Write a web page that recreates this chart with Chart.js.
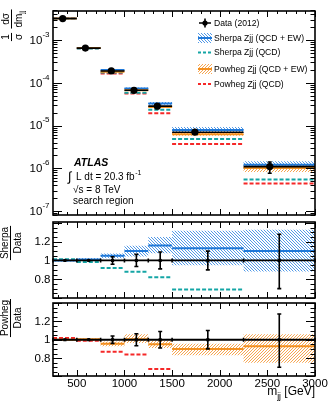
<!DOCTYPE html>
<html><head><meta charset="utf-8">
<script src="https://cdn.jsdelivr.net/npm/chart.js@4.4.1/dist/chart.umd.min.js"></script>
<style>
html,body{margin:0;padding:0;background:#fff;width:332px;height:406px;overflow:hidden;}
canvas{position:absolute;left:0;}
</style></head><body>
<canvas id="c1" width="332" height="219" style="top:0px;width:332px;height:219px"></canvas>
<canvas id="c2" width="332" height="84" style="top:218px;width:332px;height:84px"></canvas>
<canvas id="c3" width="332" height="107" style="top:299px;width:332px;height:107px"></canvas>
<script>
// ---------------- data ----------------
const binLo = [250, 500, 750, 1000, 1250, 1500, 2250];
const binHi = [500, 750, 1000, 1250, 1500, 2250, 3000];
const dataX = [352, 590, 862, 1100, 1345, 1740, 2525];
const dataY = [3.2e-3, 6.5e-4, 1.9e-4, 6.7e-5, 2.85e-5, 7.0e-6, 1.1e-6];
const dataErrUp = [0.01, 0.015, 0.04, 0.065, 0.09, 0.10, 0.28];
const dataErrDn = [0.01, 0.015, 0.04, 0.065, 0.09, 0.10, 0.30];

const sherpaEW   = [3.2e-3, 6.57e-4, 2.0e-4, 7.37e-5, 3.31e-5, 7.91e-6, 1.21e-6];
const sherpaEWUp = [3.23e-3, 6.66e-4, 2.04e-4, 7.75e-5, 3.56e-5, 9.22e-6, 1.46e-6];
const sherpaEWDn = [3.17e-3, 6.47e-4, 1.94e-4, 6.99e-5, 3.07e-5, 6.65e-6, 9.7e-7];
const sherpaQCD  = [3.22e-3, 6.4e-4, 1.75e-4, 5.9e-5, 2.34e-5, 4.83e-6, 5.5e-7];
const powhegEW   = [3.2e-3, 6.5e-4, 1.81e-4, 6.73e-5, 2.71e-5, 6.3e-6, 1.02e-6];
const powhegEWUp = [3.23e-3, 6.6e-4, 1.86e-4, 7.1e-5, 2.82e-5, 6.69e-6, 1.17e-6];
const powhegEWDn = [3.17e-3, 6.44e-4, 1.77e-4, 6.47e-5, 2.59e-5, 5.81e-6, 8.25e-7];
const powhegQCD  = [3.26e-3, 6.44e-4, 1.65e-4, 5.63e-5, 1.94e-5, 3.71e-6, 4.4e-7];

const ratioX = [375, 625, 875, 1125, 1375, 1875, 2625];
const dataRatio = [1, 1, 1, 1, 1, 1, 1];
const sherpaRatio    = [1.0, 1.01, 1.05, 1.10, 1.16, 1.13, 1.10];
const sherpaRatioUp  = [1.01, 1.025, 1.073, 1.157, 1.25, 1.317, 1.327];
const sherpaRatioDn  = [0.99, 0.995, 1.023, 1.043, 1.077, 0.95, 0.883];
const sherpaQCDRatio = [1.012, 0.983, 0.92, 0.88, 0.82, 0.69, 0.50];
const powhegRatio    = [1.0, 1.005, 0.955, 1.005, 0.95, 0.90, 0.93];
const powhegRatioUp  = [1.01, 1.015, 0.98, 1.06, 0.99, 0.955, 1.06];
const powhegRatioDn  = [0.99, 0.99, 0.93, 0.965, 0.91, 0.83, 0.75];
const powhegQCDRatio = [1.02, 0.99, 0.87, 0.84, 0.68, 0.53, 0.40];

const xTickValues = [500, 1000, 1500, 2000, 2500, 3000];
const xTickLabels = ['500', '1000', '1500', '2000', '2500', '3000'];
const logTickValues = [1e-7, 1e-6, 1e-5, 1e-4, 1e-3];
const logTickExps = ['-7', '-6', '-5', '-4', '-3'];
const ratioTickValues = [0.8, 1, 1.2];
const ratioTickLabels = ['0.8', '1', '1.2'];

// ---------------- style ----------------
const FONT = '"Liberation Sans", Arial, Helvetica, sans-serif';
const C_SH = '#1f78d8', C_SH_H = '#3f8fe4', C_SHQ = '#14a5a5';
const C_PW = '#f39020', C_PW_H = '#f59c3e', C_PWQ = '#f52828';

function hatch(ctx, color, dir) {
  const c = document.createElement('canvas'); c.width = 3; c.height = 3;
  const g = c.getContext('2d'); g.strokeStyle = color; g.lineWidth = 0.9;
  g.beginPath();
  if (dir > 0) { g.moveTo(-1, 4); g.lineTo(4, -1); g.moveTo(-1, 1); g.lineTo(1, -1); g.moveTo(2, 4); g.lineTo(4, 2); }
  else { g.moveTo(-1, -1); g.lineTo(4, 4); g.moveTo(-1, 2); g.lineTo(1, 4); g.moveTo(2, -1); g.lineTo(4, 1); }
  g.stroke();
  return ctx.createPattern(c, 'repeat');
}

function segs(vals) {
  const out = [];
  for (let i = 0; i < vals.length; i++) {
    out.push({x: binLo[i], y: vals[i]}, {x: binHi[i], y: vals[i]}, {x: binHi[i], y: null});
  }
  return out;
}
function stepPts(vals) {
  const out = [];
  for (let i = 0; i < vals.length; i++) out.push({x: binLo[i], y: vals[i]}, {x: binHi[i], y: vals[i]});
  return out;
}
function lineDS(data, color, width, dash, order) {
  return {data, borderColor: color, borderWidth: width, borderDash: dash || [], pointRadius: 0,
    fill: false, spanGaps: false, order, tension: 0};
}
function bandDS(up, dn, pattern, order) {
  return [
    {data: stepPts(up), borderWidth: 0, borderColor: 'rgba(0,0,0,0)', pointRadius: 0, fill: false, order, tension: 0},
    {data: stepPts(dn), borderWidth: 0, borderColor: 'rgba(0,0,0,0)', pointRadius: 0, fill: '-1', backgroundColor: pattern, order, tension: 0}
  ];
}
function pointsDS(xs, ys, r, style) {
  return {data: xs.map((x, i) => ({x, y: ys[i]})), showLine: false, pointRadius: r, pointStyle: style || 'circle',
    pointBackgroundColor: '#000', pointBorderColor: '#000', pointBorderWidth: 0, order: 0};
}

// ticks + frame
function frameTicks(yMajor, yMinor, yMajLen, yMinLen) {
  const xMinor = [];
  for (let v = 300; v < 3000; v += 100) if (v % 500 !== 0) xMinor.push(v);
  return {id: 'frameTicks', afterDraw(chart) {
    const ctx = chart.ctx, a = chart.chartArea, sx = chart.scales.x, sy = chart.scales.y;
    ctx.save(); ctx.strokeStyle = '#000'; ctx.lineWidth = 1; ctx.beginPath();
    const xt = (vals, len) => { for (const v of vals) { const p = Math.round(sx.getPixelForValue(v)) + 0.5;
      ctx.moveTo(p, a.bottom); ctx.lineTo(p, a.bottom - len); ctx.moveTo(p, a.top); ctx.lineTo(p, a.top + len); } };
    const yt = (vals, len) => { for (const v of vals) { const p = Math.round(sy.getPixelForValue(v)) + 0.5;
      if (p < a.top - 0.5 || p > a.bottom + 0.5) continue;
      ctx.moveTo(a.left, p); ctx.lineTo(a.left + len, p); ctx.moveTo(a.right, p); ctx.lineTo(a.right - len, p); } };
    xt(xTickValues, 6); xt(xMinor, 3); yt(yMajor, yMajLen); yt(yMinor, yMinLen);
    ctx.stroke();
    ctx.lineWidth = 1.6; ctx.strokeRect(a.left, a.top, a.right - a.left, a.bottom - a.top);
    ctx.restore();
  }};
}

// error bars
function errBars(xs, ys, up, dn, rel, capAll, edgeCaps) {
  return {id: 'errBars', afterDatasetsDraw(chart) {
    const ctx = chart.ctx, sx = chart.scales.x, sy = chart.scales.y;
    ctx.save(); ctx.strokeStyle = '#000'; ctx.lineWidth = 1.6; ctx.beginPath();
    for (let i = 0; i < xs.length; i++) {
      const x = sx.getPixelForValue(xs[i]);
      const y1 = sy.getPixelForValue(rel ? ys[i] * (1 + up[i]) : ys[i] + up[i]);
      const y2 = sy.getPixelForValue(rel ? ys[i] * (1 - dn[i]) : ys[i] - dn[i]);
      ctx.moveTo(x, y1); ctx.lineTo(x, y2);
      if (y2 - y1 > (capAll ? 5 : 9)) { ctx.moveTo(x - 2, y1); ctx.lineTo(x + 2, y1); ctx.moveTo(x - 2, y2); ctx.lineTo(x + 2, y2); }
    }
    if (edgeCaps) {
      for (let i = 0; i < binLo.length; i++) {
        const y = sy.getPixelForValue(ys[i]);
        for (const e of [binLo[i], binHi[i]]) { const x = sx.getPixelForValue(e); ctx.moveTo(x, y - 2); ctx.lineTo(x, y + 2); }
      }
    }
    ctx.stroke(); ctx.restore();
  }};
}

function rotFrac(ctx, cx, cy, num, den, font, denSub) {
  ctx.save(); ctx.translate(cx, cy); ctx.rotate(-Math.PI / 2);
  ctx.font = font; ctx.textBaseline = 'alphabetic'; ctx.fillStyle = '#000';
  const wn = ctx.measureText(num).width;
  let wd = ctx.measureText(den).width, ws = 0;
  const subFont = font.replace(/[\d.]+px/, m => (parseFloat(m) * 0.72).toFixed(1) + 'px');
  if (denSub) { ctx.font = subFont; ws = ctx.measureText(denSub).width; ctx.font = font; }
  const w = Math.max(wn, wd + ws) + 2;
  ctx.textAlign = 'left';
  ctx.fillText(num, -wn / 2, -2.5);
  const dx = -(wd + ws) / 2;
  ctx.fillText(den, dx, 10);
  if (denSub) { ctx.font = subFont; ctx.fillText(denSub, dx + wd, 12.5); }
  ctx.fillRect(-w / 2, -0.5, w, 1);
  ctx.restore();
}

function ratioLabels(off, num, titleY) {
  return {id: 'ratioLabels', afterDraw(chart) {
    const ctx = chart.ctx, sy = chart.scales.y;
    ctx.save(); ctx.fillStyle = '#000'; ctx.font = '11.5px ' + FONT; ctx.textAlign = 'right'; ctx.textBaseline = 'middle';
    ratioTickValues.forEach((v, i) => ctx.fillText(ratioTickLabels[i], 50.5, sy.getPixelForValue(v) + 0.5));
    ctx.restore();
    rotFrac(ctx, 10.5, titleY - off, num, 'Data', '10px ' + FONT);
  }};
}

// ---------------- top chart ----------------
const ctx1 = document.getElementById('c1').getContext('2d');
const hB = hatch(ctx1, C_SH_H, -1), hO = hatch(ctx1, C_PW_H, 1);

const yMinorLog = [];
for (let e = -8; e <= -3; e++) for (let k = 2; k <= 9; k++) yMinorLog.push(k * Math.pow(10, e));

const topText = {id: 'topText', afterDraw(chart) {
  const ctx = chart.ctx, sy = chart.scales.y;
  ctx.save(); ctx.fillStyle = '#000';
  logTickValues.forEach((v, i) => {
    const y = sy.getPixelForValue(v);
    ctx.font = '8px ' + FONT; ctx.textAlign = 'right'; ctx.textBaseline = 'middle';
    const we = ctx.measureText(logTickExps[i]).width;
    ctx.fillText(logTickExps[i], 49.5, y - 5.5);
    ctx.font = '11.5px ' + FONT;
    ctx.fillText('10', 49.5 - we, y + 0.5);
  });
  rotFrac(ctx, 11.5, 37, '1', 'σ', '10px ' + FONT);
  rotFrac(ctx, 11.5, 19, 'dσ', 'dm', '10px ' + FONT, 'jj');
  ctx.textAlign = 'left'; ctx.textBaseline = 'alphabetic';
  ctx.font = 'italic bold 10.5px ' + FONT; ctx.fillText('ATLAS', 74, 166);
  ctx.font = '13px ' + FONT; ctx.fillText('∫', 68, 181);
  ctx.font = '10px ' + FONT; ctx.fillText('L dt = 20.3 fb', 76, 179.5);
  const wl = ctx.measureText('L dt = 20.3 fb').width;
  ctx.font = '7px ' + FONT; ctx.fillText('-1', 76 + wl + 0.5, 175);
  ctx.font = '10px ' + FONT; ctx.fillText('√s = 8 TeV', 73, 193);
  ctx.fillText('search region', 73, 203.5);
  const lx = 198, lw = 14, tx = 214;
  ctx.font = '8.6px ' + FONT; ctx.textBaseline = 'middle';
  const rows = [23, 38, 52.5, 69, 84];
  const names = ['Data (2012)', 'Sherpa Zjj (QCD + EW)', 'Sherpa Zjj (QCD)', 'Powheg Zjj (QCD + EW)', 'Powheg Zjj (QCD)'];
  names.forEach((n, i) => ctx.fillText(n, tx, rows[i] + 0.5));
  ctx.strokeStyle = '#000'; ctx.lineWidth = 1.6; ctx.beginPath();
  ctx.moveTo(lx + 1, rows[0]); ctx.lineTo(lx + lw - 1, rows[0]);
  ctx.moveTo(lx + lw / 2, rows[0] - 4.5); ctx.lineTo(lx + lw / 2, rows[0] + 4.5); ctx.stroke();
  ctx.beginPath(); ctx.arc(lx + lw / 2, rows[0], 2.6, 0, Math.PI * 2); ctx.fill();
  ctx.fillStyle = hB; ctx.fillRect(lx, rows[1] - 5, lw, 10);
  ctx.strokeStyle = C_SH; ctx.lineWidth = 2; ctx.beginPath(); ctx.moveTo(lx, rows[1]); ctx.lineTo(lx + lw, rows[1]); ctx.stroke();
  ctx.setLineDash([3, 2]); ctx.strokeStyle = C_SHQ; ctx.beginPath(); ctx.moveTo(lx, rows[2]); ctx.lineTo(lx + lw, rows[2]); ctx.stroke();
  ctx.setLineDash([]);
  ctx.fillStyle = hO; ctx.fillRect(lx, rows[3] - 5, lw, 10);
  ctx.strokeStyle = C_PW; ctx.beginPath(); ctx.moveTo(lx, rows[3]); ctx.lineTo(lx + lw, rows[3]); ctx.stroke();
  ctx.setLineDash([3, 2]); ctx.strokeStyle = C_PWQ; ctx.beginPath(); ctx.moveTo(lx, rows[4]); ctx.lineTo(lx + lw, rows[4]); ctx.stroke();
  ctx.restore();
}};

function makeChart(id, datasets, yScale, padding, plugins) {
  return new Chart(document.getElementById(id), {
    type: 'line', data: {datasets},
    options: {responsive: false, animation: false, devicePixelRatio: 1, events: [],
      layout: {padding},
      plugins: {legend: {display: false}, tooltip: {enabled: false}},
      scales: {x: {type: 'linear', min: 250, max: 3000, display: false},
               y: Object.assign({display: false}, yScale)}},
    plugins
  });
}

makeChart('c1', [
  ...bandDS(sherpaEWUp, sherpaEWDn, hB, 10),
  ...bandDS(powhegEWUp, powhegEWDn, hO, 9),
  lineDS(segs(sherpaQCD), C_SHQ, 2, [4, 2], 7),
  lineDS(segs(powhegQCD), C_PWQ, 2, [4, 2], 7),
  lineDS(segs(sherpaEW), C_SH, 2, [], 5),
  lineDS(segs(powhegEW), C_PW, 2, [], 4),
  lineDS(segs(dataY), '#000', 1.6, [], 2),
  pointsDS(dataX, dataY, 3.6)
], {type: 'logarithmic', min: 8.1e-8, max: 4.8e-3},
 {top: 11, bottom: 1, left: 53, right: 17},
 [errBars(dataX, dataY, dataErrUp, dataErrDn, true, false, false),
  frameTicks(logTickValues, yMinorLog, 9, 4.5), topText]);

// ---------------- ratio charts ----------------
const ratioMajor = [0.6, 0.8, 1.0, 1.2, 1.4];
const ratioMinor = [];
for (let v = 0.65; v < 1.4; v += 0.05) ratioMinor.push(Math.round(v * 100) / 100);

const ctx2 = document.getElementById('c2').getContext('2d');
const hB2 = hatch(ctx2, C_SH_H, -1);
makeChart('c2', [
  ...bandDS(sherpaRatioUp, sherpaRatioDn, hB2, 10),
  lineDS(segs(sherpaQCDRatio), C_SHQ, 2, [4, 2], 7),
  lineDS(segs(sherpaRatio), C_SH, 2, [], 5),
  lineDS(segs(dataRatio), '#000', 1.8, [], 2),
  pointsDS(ratioX, dataRatio, 2.2, 'rect')
], {type: 'linear', min: 0.6, max: 1.41},
 {top: 1, bottom: 2, left: 53, right: 17},
 [errBars(ratioX, dataRatio, dataErrUp, dataErrDn, false, true, true),
  frameTicks(ratioMajor, ratioMinor, 9, 4.5), ratioLabels(218, 'Sherpa', 243)]);

const ctx3 = document.getElementById('c3').getContext('2d');
const hO3 = hatch(ctx3, C_PW_H, 1);
const bottomText = {id: 'bottomText', afterDraw(chart) {
  const ctx = chart.ctx, sx = chart.scales.x, off = 299;
  ctx.save(); ctx.fillStyle = '#000'; ctx.font = '11.5px ' + FONT; ctx.textAlign = 'center'; ctx.textBaseline = 'alphabetic';
  xTickValues.forEach((v, i) => ctx.fillText(xTickLabels[i], sx.getPixelForValue(v), 387 - off));
  ctx.textAlign = 'right'; ctx.font = '12px ' + FONT;
  ctx.fillText('[GeV]', 315, 395 - off);
  const w1 = ctx.measureText(' [GeV]').width;
  ctx.font = '8.5px ' + FONT; ctx.fillText('jj', 315 - w1, 398.5 - off);
  const wj = ctx.measureText('jj').width;
  ctx.font = '12px ' + FONT; ctx.fillText('m', 315 - w1 - wj, 395 - off);
  ctx.restore();
}};
makeChart('c3', [
  ...bandDS(powhegRatioUp, powhegRatioDn, hO3, 10),
  lineDS(segs(powhegQCDRatio), C_PWQ, 2, [4, 2], 7),
  lineDS(segs(powhegRatio), C_PW, 2, [], 5),
  lineDS(segs(dataRatio), '#000', 1.8, [], 2),
  pointsDS(ratioX, dataRatio, 2.2, 'rect')
], {type: 'linear', min: 0.605, max: 1.4},
 {top: 1, bottom: 30, left: 53, right: 17},
 [errBars(ratioX, dataRatio, dataErrUp, dataErrDn, false, true, true),
  frameTicks(ratioMajor, ratioMinor, 9, 4.5), ratioLabels(299, 'Powheg', 318), bottomText]);
</script>
</body></html>
